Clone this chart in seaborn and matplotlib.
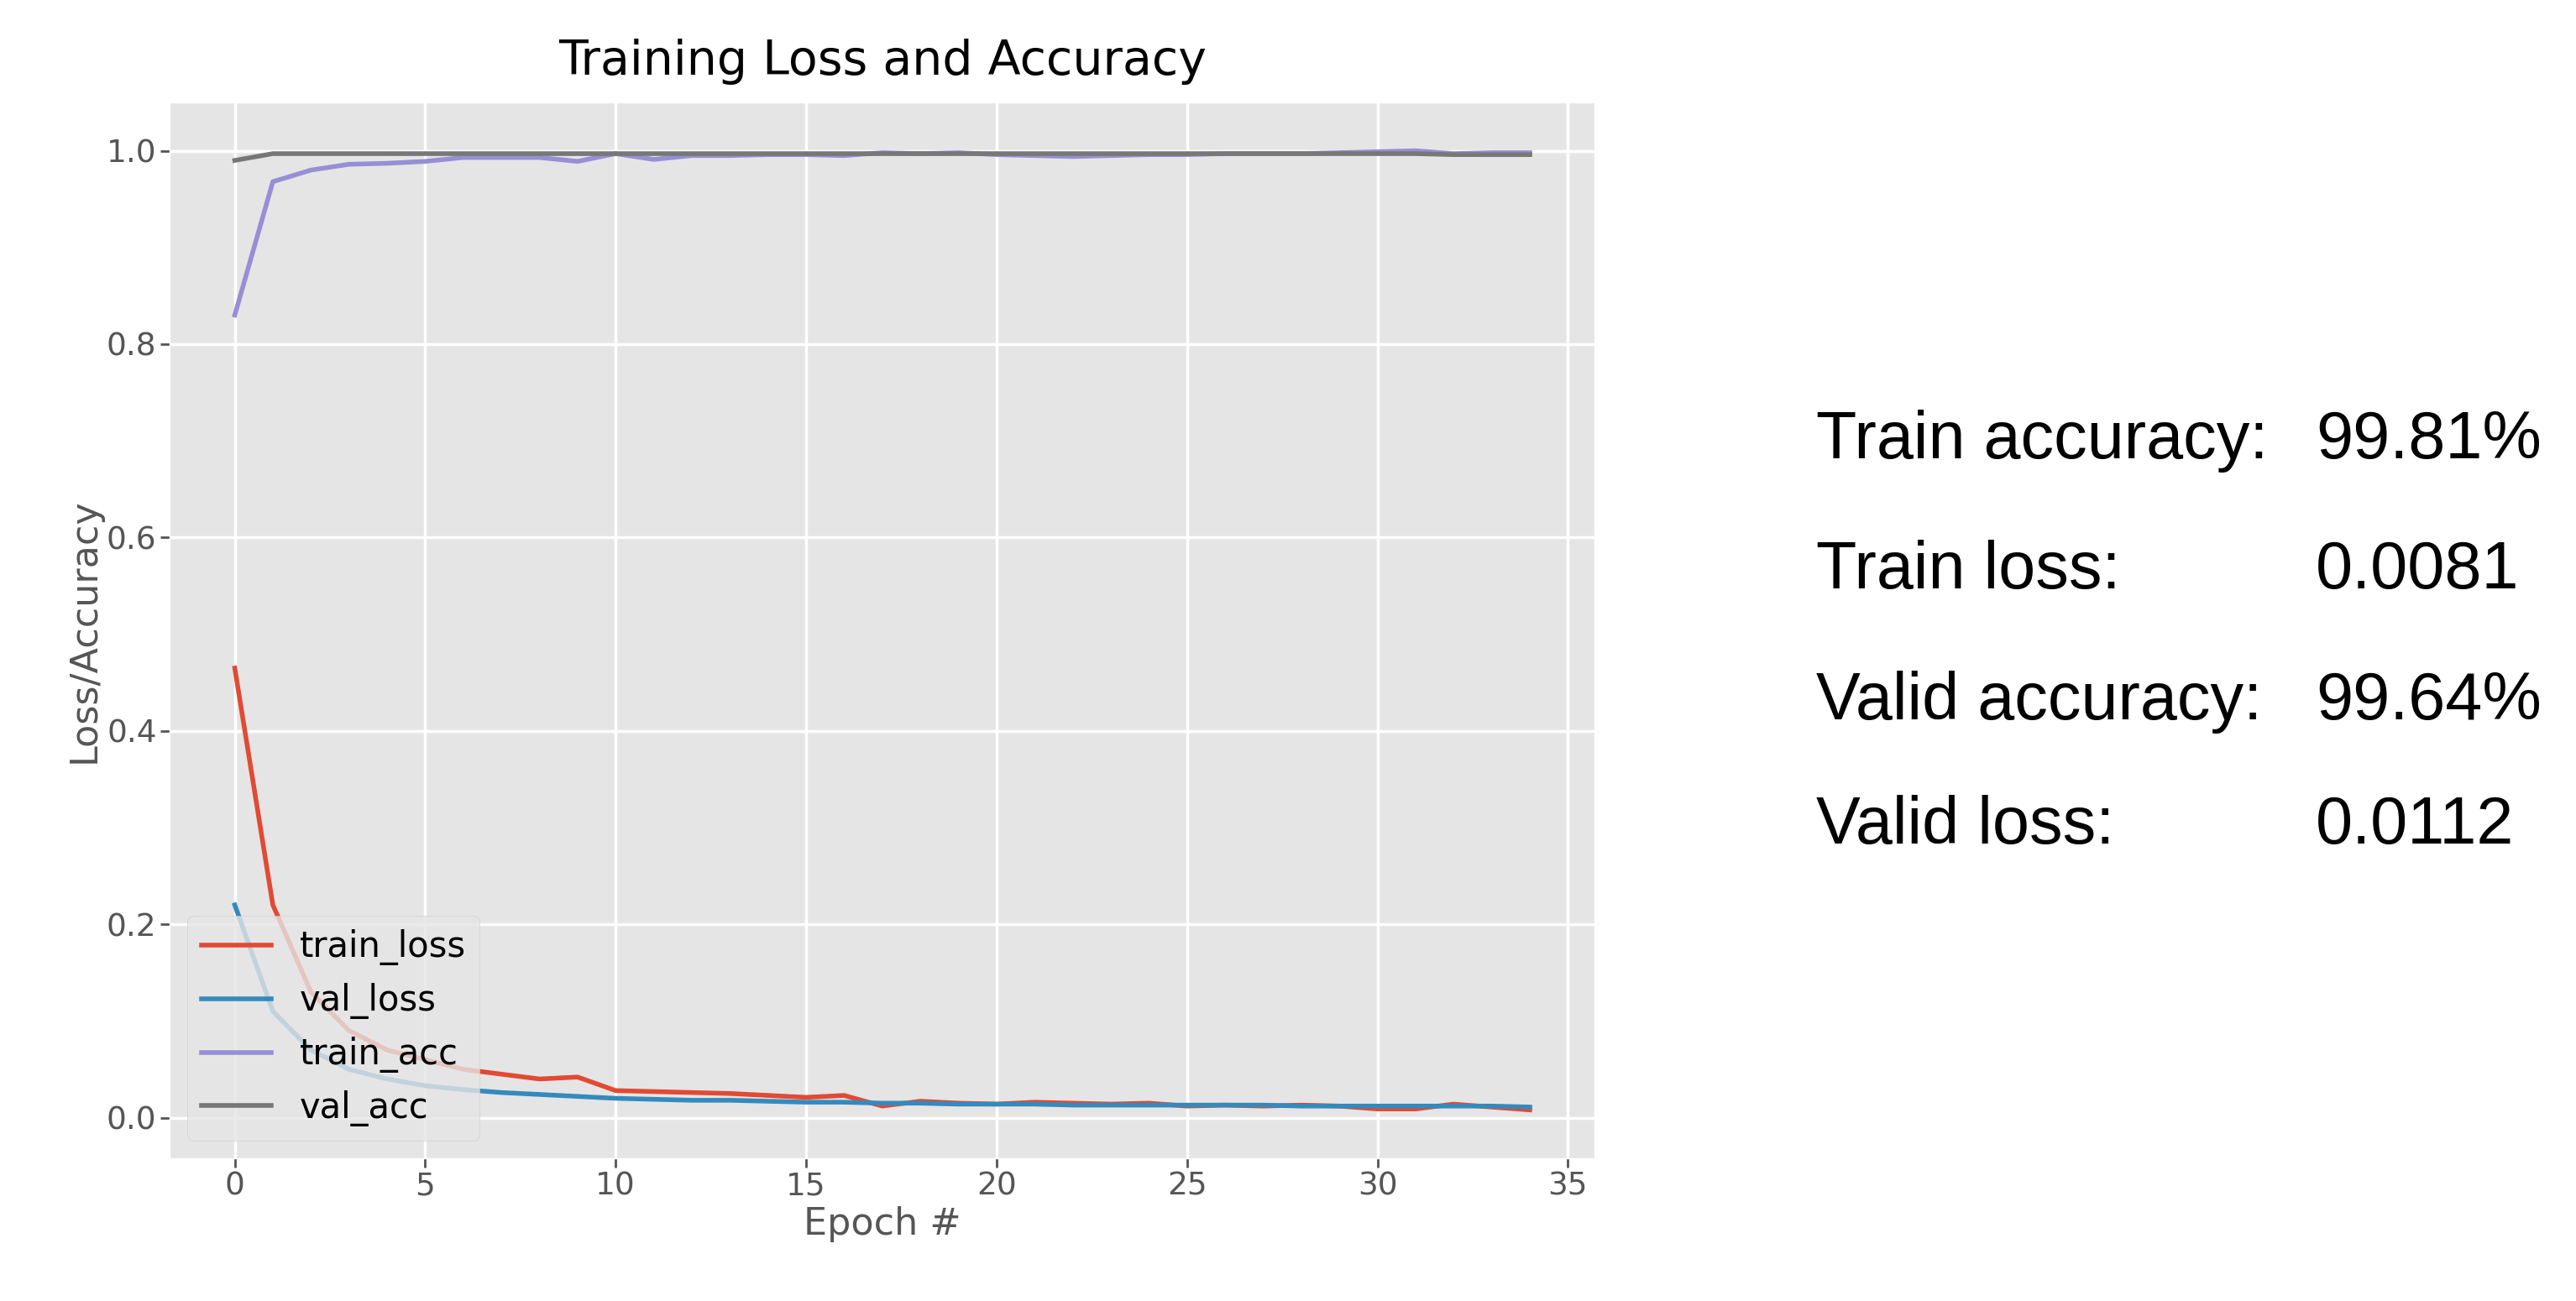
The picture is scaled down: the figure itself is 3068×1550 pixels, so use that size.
import numpy as np
import pandas as pd
import matplotlib
matplotlib.use("Agg")
import matplotlib.pyplot as plt
import seaborn as sns

# values
epochs = list(range(35))
train_loss = [0.465, 0.22, 0.13, 0.09, 0.07, 0.06, 0.05, 0.045, 0.04, 0.042,
              0.028, 0.027, 0.026, 0.025, 0.023, 0.021, 0.023, 0.012, 0.017, 0.015,
              0.014, 0.016, 0.015, 0.014, 0.015, 0.012, 0.013, 0.012, 0.013, 0.012,
              0.009, 0.009, 0.014, 0.011, 0.008]
val_loss = [0.22, 0.11, 0.07, 0.05, 0.04, 0.033, 0.029, 0.026, 0.024, 0.022,
            0.020, 0.019, 0.018, 0.018, 0.017, 0.016, 0.016, 0.015, 0.015, 0.014,
            0.014, 0.014, 0.013, 0.013, 0.013, 0.013, 0.013, 0.013, 0.012, 0.012,
            0.012, 0.012, 0.012, 0.012, 0.011]
train_acc = [0.83, 0.968, 0.98, 0.986, 0.987, 0.989, 0.993, 0.993, 0.993, 0.989,
             0.997, 0.991, 0.995, 0.995, 0.996, 0.996, 0.995, 0.998, 0.997, 0.998,
             0.996, 0.995, 0.994, 0.995, 0.996, 0.996, 0.997, 0.997, 0.997, 0.998,
             0.999, 1.0, 0.997, 0.998, 0.998]
val_acc = [0.99, 0.997, 0.997, 0.997, 0.997, 0.997, 0.997, 0.997, 0.997, 0.997,
           0.997, 0.997, 0.997, 0.997, 0.997, 0.997, 0.997, 0.997, 0.997, 0.997,
           0.997, 0.997, 0.997, 0.997, 0.997, 0.997, 0.997, 0.997, 0.997, 0.997,
           0.997, 0.997, 0.996, 0.996, 0.996]

series_names = ["train_loss", "val_loss", "train_acc", "val_acc"]
series_colors = ["#E24A33", "#348ABD", "#988ED5", "#777777"]

summary_labels = ["Train accuracy:", "Train loss:", "Valid accuracy:", "Valid loss:"]
summary_values = ["99.81%", "0.0081", "99.64%", "0.0112"]

df = pd.DataFrame({"epoch": epochs, "train_loss": train_loss, "val_loss": val_loss,
                   "train_acc": train_acc, "val_acc": val_acc})
long = df.melt(id_vars="epoch", value_vars=series_names, var_name="series", value_name="value")

plt.style.use("ggplot")
fig = plt.figure(figsize=(30.68, 15.5), dpi=100)
ax = fig.add_axes([0.066, 0.110, 0.553, 0.811])

sns.lineplot(data=long, x="epoch", y="value", hue="series", hue_order=series_names,
             palette=series_colors, linewidth=4, ax=ax)

ax.set_title("Training Loss and Accuracy", fontsize=41, pad=24)
ax.set_xlabel("Epoch #", fontsize=32, color="#555555")
ax.set_ylabel("Loss/Accuracy", fontsize=32, color="#555555")
ax.set_xticks([0, 5, 10, 15, 20, 25, 30, 35])
ax.set_yticks([0.0, 0.2, 0.4, 0.6, 0.8, 1.0])
ax.tick_params(labelsize=27, length=8, width=2, colors="#555555")
ax.grid(color="white", linewidth=2.5)
leg = ax.legend(loc="lower left", fontsize=30, frameon=True)
for line in leg.get_lines():
    line.set_linewidth(4)

ys = [0.661, 0.561, 0.460, 0.365]
for lab, val, y in zip(summary_labels, summary_values, ys):
    fig.text(0.705, y, lab, fontsize=57, family="Liberation Sans", va="center")
    fig.text(0.899, y, val, fontsize=57, family="Liberation Sans", va="center")

fig.savefig("out.png", dpi=100)
